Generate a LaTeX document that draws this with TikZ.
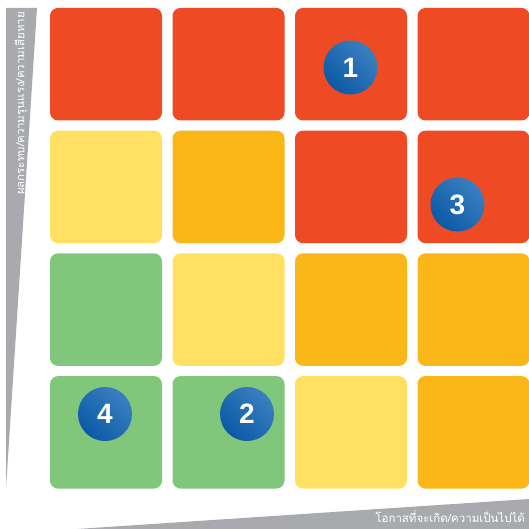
\documentclass[tikz,border=0pt]{standalone}
\usepackage{fontspec}
\setmainfont{Liberation Sans}
\newfontfamily\thaifont[Script=Thai]{Loma}
\usepackage{tikz}
\usetikzlibrary{positioning}

\definecolor{riskred}{HTML}{EE4A24}
\definecolor{riskorange}{HTML}{FBB617}
\definecolor{riskyellow}{HTML}{FFE063}
\definecolor{riskgreen}{HTML}{80C77C}
\definecolor{axisgray}{HTML}{A8AAAD}
\definecolor{markblue}{HTML}{0B59A6}
\definecolor{markbluelight}{HTML}{3A80BF}

\begin{document}
\begin{tikzpicture}[x=1pt, y=-1pt,
                cell/.style={rectangle, rounded corners=8pt, inner sep=0pt, minimum width=112pt, minimum height=112.5pt},
                red/.style={cell, fill=riskred},
                orange/.style={cell, fill=riskorange},
                yellow/.style={cell, fill=riskyellow},
                green/.style={cell, fill=riskgreen},
                marker/.style={circle, inner sep=0pt, minimum size=54pt, bottom color=markblue, top color=markbluelight, shading angle=-45, text=white, font=\bfseries\fontsize{28}{28}\selectfont},
                axislabel/.style={text=white, inner sep=0pt, font=\thaifont\fontsize{11.5}{12}\selectfont}
            ]
            \useasboundingbox (0,0) rectangle (529,529);

            % axes
            \fill[axisgray] (6,8) -- (37,8) -- (6,488) -- cycle;
            \fill[axisgray] (77,529) -- (529,499) -- (529,529) -- cycle;

            % row 1
            \node[red] (c11) at (106,64.2) {};
            \node[red] (c12) at (228.5,64.2) {};
            \node[red] (c13) at (351,64.2) {};
            \node[red] (c14) at (473.5,64.2) {};
            % row 2
            \node[yellow] (c21) at (106,186.9) {};
            \node[orange] (c22) at (228.5,186.9) {};
            \node[red] (c23) at (351,186.9) {};
            \node[red] (c24) at (473.5,186.9) {};
            % row 3
            \node[green] (c31) at (106,309.6) {};
            \node[yellow] (c32) at (228.5,309.6) {};
            \node[orange] (c33) at (351,309.6) {};
            \node[orange] (c34) at (473.5,309.6) {};
            % row 4
            \node[green] (c41) at (106,432.3) {};
            \node[green] (c42) at (228.5,432.3) {};
            \node[yellow] (c43) at (351,432.3) {};
            \node[orange] (c44) at (473.5,432.3) {};

            \node[marker] (m1) at (350.5,67.5) {1};
            \node[marker] (m3) at (457.5,204.5) {3};
            \node[marker] (m4) at (105,414) {4};
            \node[marker] (m2) at (247,414) {2};

            \node[axislabel, rotate=90, anchor=east] (impact) at (21,12) {ผลกระทบ/ความรุนแรง/ความเสียหาย};
            \node[axislabel, anchor=east] (chance) at (525,517) {โอกาสที่จะเกิด/ความเป็นไปได้};
            \end{tikzpicture}
\end{document}
